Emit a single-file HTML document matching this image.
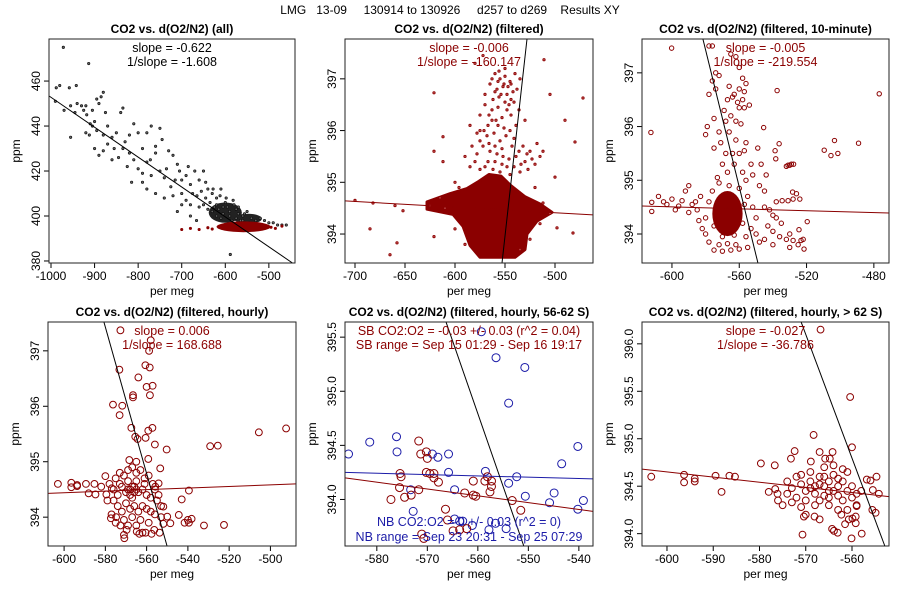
<!DOCTYPE html>
<html><head><meta charset="utf-8"><style>
body{margin:0;background:#fff}
svg text{font-family:"Liberation Sans",sans-serif}
</style></head><body>
<svg id="chart" width="900" height="600" xmlns="http://www.w3.org/2000/svg">
<rect width="900" height="600" fill="#fff"/>
<text x="450" y="14" text-anchor="middle" font-size="12" xml:space="preserve">LMG   13-09     130914 to 130926     d257 to d269    Results XY</text>
</svg>
<script>
const RED='#8b0000', BLUE='#1c1ca8';
// ---------- Panel 1 data ----------
const p1BlackPts=[[-988,457],[-980,458],[-958,457],[-942,458],[-990,451],[-970,447],[-955,449],[-945,446],[-940,450],[-930,449],[-925,447],[-920,449],[-918,445],[-905,447],[-895,452],[-890,450],[-880,455],[-885,453],[-875,446],[-910,441],[-905,440],[-900,442],[-895,438],[-920,437],[-912,436],[-955,435],[-880,436],[-870,440],[-860,435],[-850,437],[-840,446],[-835,448],[-830,433],[-820,436],[-810,441],[-800,437],[-790,430],[-780,437],[-770,440],[-750,439],[-760,431],[-745,434],[-820,428],[-810,425],[-800,421],[-790,419],[-780,424],[-770,418],[-760,428],[-750,420],[-740,417],[-730,429],[-720,427],[-710,423],[-700,416],[-690,418],[-680,414],[-670,420],[-660,416],[-650,420],[-640,412],[-630,410],[-620,408],[-610,412],[-600,406],[-590,402],[-580,405],[-570,401],[-560,400],[-550,402],[-540,399],[-520,399],[-510,398],[-490,397],[-470,396],[-460,396],[-900,430],[-890,427],[-880,429],[-870,432],[-815,415],[-790,415],[-780,412],[-760,410],[-740,408],[-720,409],[-700,410],[-690,407],[-680,405],[-660,404],[-650,405],[-640,403],[-630,402],[-700,405],[-710,402],[-620,400],[-610,399],[-680,400],[-666,398],[-860,425],[-845,426],[-835,430],[-825,422],[-855,430],[-772,425],[-735,421],[-725,413],[-715,416],[-705,420],[-685,422],[-675,410],[-665,409],[-655,411],[-645,408],[-635,406],[-625,404],[-615,403],[-605,401],[-595,404],[-585,398],[-575,403],[-565,398],[-555,397],[-545,397],[-530,398],[-500,397],[-480,396],[-971.7,475],[-913.5,467.8],[-588.5,382.9],[-645,415],[-628,412],[-612,409],[-598,408],[-582,407],[-570,404],[-556,401],[-620,405],[-605,404],[-590,400],[-575,399],[-560,398]];
const p1BlackBlobs=[[-600,401.5,38,4.5],[-548,398.8,32,2.2]];
const p1RedPts=[[-700,394],[-680,394.5],[-660,394],[-640,394.8],[-630,394.2],[-495,395],[-485,394.5],[-470,395.5]];
const p1RedBlobs=[[-558,395.2,62,2.4]];
const p1Line=[[-1004,453.3],[-445,379]];
// ---------- Panel 2 data ----------
const p2Pts=[[-621,396.73],[-612,395.88],[-621,395.6],[-612,395.4],[-472,396.63],[-505,396.7],[-511,397.37],[-490,396.2],[-480,395.78],[-500,395.1],[-482,394.02],[-498,394.12],[-700,394.65],[-682,394.6],[-660,394.55],[-652,394.45],[-685,394.1],[-658,393.83],[-665,393.6],[-621,393.95],[-580,397.3],[-572,397.45],[-560,397.1],[-555,397.0],[-550,397.2],[-545,396.95],[-540,397.1],[-535,397.0],[-565,396.9],[-558,396.8],[-552,396.85],[-548,396.7],[-542,396.75],[-538,396.8],[-562,396.6],[-556,396.65],[-550,396.55],[-546,396.5],[-570,396.5],[-575,396.3],[-566,396.3],[-559,396.2],[-553,396.25],[-544,396.3],[-536,396.4],[-530,396.2],[-585,396.1],[-578,395.95],[-568,395.9],[-561,395.95],[-555,395.8],[-549,395.9],[-541,395.85],[-532,395.7],[-525,395.6],[-518,395.75],[-512,395.6],[-572,395.7],[-565,395.6],[-558,395.55],[-552,395.5],[-546,395.45],[-539,395.5],[-530,395.4],[-520,395.35],[-590,395.5],[-580,395.4],[-570,395.3],[-562,395.25],[-555,395.2],[-545,395.15],[-535,395.2],[-600,395.0],[-596,394.9],[-520,394.9],[-512,394.6],[-515,394.2],[-525,393.9],[-535,393.7],[-590,393.8],[-600,394.1],[-610,394.5],[-625,394.55],[-615,394.7],[-505,394.4],
[-563,397.0],[-557,396.95],[-551,396.9],[-547,396.85],[-560,396.75],[-554,396.7],[-544,396.6],[-541,396.55],[-548,396.4],[-557,396.45],[-563,396.4],[-567,396.1],[-557,396.1],[-551,396.05],[-545,396.0],[-539,396.1],[-563,396.2],[-571,396.0],[-575,395.8],[-566,395.75],[-560,395.7],[-553,395.65],[-543,395.7],[-536,395.6],[-528,395.55],[-548,395.3],[-541,395.3],[-534,395.35],[-527,395.25],[-575,395.25],[-567,395.4],[-560,395.4],[-553,395.35],[-578,395.55],[-583,395.7],[-550,397.05],[-556,397.15],[-544,396.9],[-570,396.7],[-575,396.0],[-585,395.3],[-523,395.45],[-515,395.5]];
const p2Blob=[[-628,394.62],[-605,394.78],[-588,394.88],[-576,395.02],[-566,395.15],[-554,395.12],[-545,394.95],[-530,394.72],[-515,394.58],[-503,394.42],[-518,394.25],[-528,394.0],[-530,393.7],[-540,393.55],[-575,393.55],[-585,393.78],[-592,394.15],[-602,394.38],[-628,394.48]];
const p2RedLine=[[-710,394.64],[-462,394.37]];
const p2BlackLine=[[-528,397.77],[-553,393.44]];
// ---------- Panel 3 data ----------
const p3Pts=[[-600.2,397.46],[-612.5,395.89],[-476.8,396.61],[-537.5,396.67],[-545.5,395.98],[-536.3,395.68],[-538.7,395.55],[-538.3,395.4],[-532,395.26],[-531,395.28],[-530,395.28],[-529,395.3],[-527.7,395.3],[-509.5,395.56],[-505.5,395.46],[-503.4,395.74],[-501.4,395.5],[-489.1,395.69],[-528.3,394.78],[-528,394.65],[-534.5,394.62],[-519.6,394.23],[-524.5,394.08],[-523.3,393.88],[-521.5,393.72],[-578,397.5],[-576,397.5],[-574,397.0],[-572,396.95],[-565,397.35],[-562,397.3],[-560,397.1],[-558,396.9],[-556,396.8],[-576,396.85],[-574,396.7],[-566,396.75],[-563,396.6],[-560,396.7],[-557,396.65],[-564,396.55],[-567,396.5],[-561,396.45],[-558,396.5],[-578,396.6],[-569,396.3],[-565,396.2],[-560,396.35],[-557,396.35],[-554,396.4],[-562,396.1],[-568,396.1],[-575,396.15],[-579,396.0],[-580,395.85],[-572,395.9],[-559,396.05],[-566,395.9],[-556,395.7],[-549,395.6],[-562,395.75],[-571,395.7],[-575,395.6],[-568,395.5],[-564,395.5],[-560,395.5],[-557,395.55],[-553,395.3],[-563,395.3],[-570,395.3],[-567,395.15],[-558,395.15],[-552,395.1],[-544,395.1],[-547,395.3],[-556,395.0],[-573,395.05],[-548,394.9],[-545,394.8],[-612,394.42],[-612,394.59],[-608,394.7],[-605,394.6],[-603,394.55],[-600,394.65],[-598,394.45],[-596,394.52],[-594,394.62],[-592,394.8],[-590,394.9],[-588,394.55],[-586,394.6],[-590,394.4],[-585,394.45],[-583,394.7],[-545,394.5],[-542,394.45],[-540,394.35],[-538,394.3],[-535,394.2],[-540,394.05],[-536,393.95],[-532,393.9],[-530,394.0],[-528,393.88],[-525,393.8],[-522,393.9],[-530,393.75],[-540,393.8],[-545,393.9],[-550,394.0],[-548,393.85],[-543,394.15],[-538,394.6],[-531,394.62],[-526,394.75],[-524,394.65],[-575,393.7],[-570,393.68],[-565,393.7],[-560,393.72],[-555,393.75],[-572,393.8],[-567,393.82],[-562,393.8],[-578,393.85],[-580,394.0],[-582,394.1],[-584,394.25],[-580,394.3],[-576,394.8],[-572,394.95],[-566,394.9],[-560,394.85],[-555,394.7],[-552,394.5],[-550,394.3],[-553,394.1],[-556,393.95],[-578,394.6],[-575,394.15],[-558,394.2],[-557,394.55],[-570,393.95],[-563,393.98]];
const p3Blobs=[[-567,394.38,9,0.42]];
const p3RedLine=[[-617.8,394.52],[-471,394.39]];
const p3BlackLine=[[-581.6,397.63],[-548.9,393.46]];
// ---------- Panel 4 data ----------
const p4Pts=[[-572.7,397.37],[-558,397.19],[-558.8,397.0],[-573.2,396.66],[-560.6,396.74],[-558.5,396.7],[-564,396.52],[-560,396.35],[-557.1,396.37],[-566.6,396.2],[-566.6,396.16],[-558.4,396.2],[-576.3,396.03],[-571.8,396.01],[-573.1,395.84],[-567.4,395.61],[-559.2,395.56],[-557.2,395.61],[-565.5,395.45],[-564.4,395.41],[-560.5,395.43],[-556,395.31],[-550.3,395.22],[-529.2,395.28],[-525.5,395.29],[-505.6,395.53],[-492.4,395.6],[-568.4,395.03],[-559.2,395.05],[-553.4,394.88],[-565,395.0],[-603,394.6],[-596.5,394.62],[-596.5,394.54],[-593.7,394.56],[-593.7,394.58],[-589.4,394.6],[-588.1,394.43],[-585.3,394.6],[-584.8,394.41],[-582,394.55],[-580,394.74],[-579.5,394.41],[-576.9,394.52],[-539.5,394.48],[-543,394.32],[-544.4,394.04],[-540,393.95],[-538.2,393.97],[-541.6,393.9],[-539.5,393.9],[-532.2,393.85],[-522.5,393.86],[-571,393.68],[-570.8,393.62],[-569.7,393.77],[-577.3,393.98],[-574.8,394.0],[-572.7,393.85],[-564.8,393.74],[-563.5,393.7],[-562,393.72],[-560.5,393.72],[-557.6,393.7],[-553.7,393.72],[-556.3,393.77],[-551.9,393.88],[-548.5,393.89],[-553,394.0],[-550,394.01],[-551.9,394.19],[-554.2,394.61],[-554.2,394.4],[-555.8,394.55],[-575,394.7],[-573,394.8],[-571,394.75],[-569,394.85],[-567,394.9],[-565,394.8],[-563,394.85],[-561,394.7],[-559,394.75],[-557,394.6],[-576,394.5],[-574,394.4],[-572,394.55],[-570,394.45],[-568,394.5],[-566,394.55],[-564,394.45],[-562,394.5],[-560,394.4],[-558,394.35],[-556,394.5],[-574,394.2],[-572,394.1],[-570,394.25],[-568,394.15],[-566,394.2],[-564,394.1],[-562,394.2],[-560,394.15],[-558,394.1],[-556,394.05],[-576,394.3],[-571,393.95],[-567,394.0],[-563,393.95],[-559,393.9],[-569,394.65],[-565,394.65],[-561,394.6],[-573,394.6],[-578,394.6],[-579,394.3],[-577,394.05],[-555,394.3],[-553,394.2],[-575,393.9],[-569,393.85],[-565,393.85],[-568,394.4],[-567,394.55],[-566,394.45],[-569,394.5],[-567,394.35],[-565,394.5]];
const p4RedLine=[[-607.8,394.43],[-487.6,394.60]];
const p4BlackLine=[[-580.7,397.52],[-550.1,393.48]];
// ---------- Panel 5 data ----------
const p5BluePts=[[-585.6,394.42],[-581.4,394.53],[-576.1,394.58],[-576,394.44],[-573.3,394.09],[-572.8,393.89],[-569,394.42],[-567.9,394.39],[-565.8,394.42],[-565.8,394.25],[-564.6,394.09],[-564.6,393.82],[-563.6,393.8],[-563,393.8],[-561.1,393.76],[-559.3,395.55],[-558.5,394.26],[-557.8,393.72],[-556.4,395.31],[-556.5,393.78],[-554.4,393.73],[-553.9,394.15],[-553.9,394.89],[-552.3,394.21],[-550.7,395.22],[-550.6,394.03],[-545.8,393.97],[-544.9,394.06],[-543.4,394.33],[-540.2,394.49],[-540.2,393.91],[-539.1,393.99]];
const p5RedPts=[[-577.2,394.0],[-575.4,394.24],[-575.2,394.21],[-575.5,394.11],[-574.5,394.02],[-573.2,394.04],[-571.7,394.54],[-571.7,394.09],[-571.3,394.42],[-570.2,394.44],[-570,394.38],[-570.2,394.25],[-569.5,394.24],[-568.7,394.24],[-568.7,394.2],[-567.8,394.16],[-571.1,393.68],[-570.7,393.64],[-566.4,393.91],[-566,393.81],[-564.9,393.71],[-563.6,393.72],[-562.6,394.06],[-562.2,393.73],[-560.9,394.17],[-560.9,394.04],[-560.4,394.03],[-558.6,394.17],[-558.1,394.21],[-557.6,394.07],[-557.3,394.17],[-557.3,394.12],[-553.2,393.99],[-551.5,393.9]];
const p5BlueLine=[[-586.3,394.25],[-537.2,394.19]];
const p5RedLine=[[-586.3,394.20],[-537.2,393.89]];
const p5BlackLine=[[-566.3,395.64],[-550.9,393.57]];
// ---------- Panel 6 data ----------
const p6Pts=[[-603.4,394.6],[-596.3,394.62],[-596.3,394.54],[-594,394.58],[-594,394.55],[-589.5,394.61],[-588.2,394.44],[-586.5,394.61],[-585.3,394.6],[-579.7,394.74],[-578,394.44],[-576.7,394.72],[-576.6,394.47],[-576.1,394.42],[-566.8,396.15],[-560.4,395.44],[-568.3,395.04],[-560,394.91],[-572.4,394.87],[-567,394.86],[-564.2,394.86],[-573.2,394.79],[-568.9,394.76],[-565.8,394.79],[-564.8,394.79],[-570.7,393.99],[-570.4,394.18],[-568.1,394.18],[-564.3,394.05],[-563.9,394.03],[-563.1,394.01],[-560.1,393.95],[-557.9,394.0],[-562.3,394.2],[-561.5,394.1],[-560.7,394.15],[-559.9,394.16],[-559.2,394.11],[-559.2,394.18],[-559,394.29],[-555.6,394.25],[-554.9,394.22],[-554.7,394.6],[-555.5,394.46],[-554.2,394.42],[-556.8,394.57],[-556,394.56],[-574,394.55],[-573,394.48],[-572,394.6],[-571,394.52],[-570,394.45],[-569,394.55],[-568,394.5],[-568,394.42],[-567,394.6],[-567,394.35],[-566,394.5],[-566,394.4],[-565,394.55],[-565,394.38],[-564,394.45],[-564,394.62],[-563,394.5],[-563,394.4],[-562,394.55],[-562,394.35],[-561,394.45],[-561,394.65],[-560,394.5],[-560,394.38],[-559,394.42],[-559,394.3],[-558,394.45],[-570,394.35],[-571,394.62],[-573,394.33],[-572,394.38],[-574,394.42],[-569,394.65],[-566,394.7],[-564,394.72],[-562,394.68],[-571,394.28],[-568,394.3],[-565,394.3],[-563,394.25],[-561,394.25],[-570,394.2],[-567,394.15],[-575,394.3],[-576,394.35],[-566,394.6],[-569,394.48],[-567,394.52],[-565,394.45],[-563,394.58]];
const p6RedLine=[[-605.4,394.68],[-552.0,394.39]];
const p6BlackLine=[[-571.0,396.23],[-552.9,393.87]];
// ---------- tick arrays ----------
const p1XTicks=[-1000,-900,-800,-700,-600,-500], p1YTicks=[380,400,420,440,460];
const p2XTicks=[-700,-650,-600,-550,-500], p2YTicks=[394,395,396,397];
const p3XTicks=[-600,-560,-520,-480], p3YTicks=[394,395,396,397];
const p4XTicks=[-600,-580,-560,-540,-520,-500], p4YTicks=[394,395,396,397];
const p5XTicks=[-580,-570,-560,-550,-540], p5YTicks=[394.0,394.5,395.0,395.5];
const p6XTicks=[-600,-590,-580,-570,-560], p6YTicks=[394.0,394.5,395.0,395.5,396.0];

const svg=document.getElementById('chart');
const NS='http://www.w3.org/2000/svg';
function mk(tag,attrs,parent){const e=document.createElementNS(NS,tag);for(const k in attrs)e.setAttribute(k,attrs[k]);(parent||svg).appendChild(e);return e;}

function panel(id,box,xd,yd,title,xt,yt,yfmt){
  const g=mk('g',{});
  
  
  const [L,T,R,B]=box;
  const sx=v=>L+(v-xd[0])/(xd[1]-xd[0])*(R-L);
  const sy=v=>B-(v-yd[0])/(yd[1]-yd[0])*(B-T);
  const cp=mk('clipPath',{id:id+'-clip'},g);mk('rect',{x:L,y:T,width:R-L,height:B-T},cp);
  const plot=mk('g',{'clip-path':'url(#'+id+'-clip)'},g);
  const t=mk('text',{x:(L+R)/2,y:T-6,'text-anchor':'middle','font-size':12,'font-weight':'bold'},g);t.textContent=title;
  
  
  xt.forEach(v=>{const x=sx(v);mk('line',{x1:x,x2:x,y1:B,y2:B+5,stroke:'#000'},g);
    const l=mk('text',{x:x,y:B+17,'text-anchor':'middle','font-size':12},g);l.textContent=v;
    
    });
  yt.forEach(v=>{const y=sy(v);mk('line',{x1:L-5,x2:L,y1:y,y2:y,stroke:'#000'},g);
    const l=mk('text',{x:L-9,y:y,'text-anchor':'middle','font-size':12,transform:`rotate(-90 ${L-9} ${y})`},g);l.textContent=yfmt?v.toFixed(1):v;
    
    });
  const xl=mk('text',{x:(L+R)/2,y:B+32,'text-anchor':'middle','font-size':12},g);xl.textContent='per meg';
  
  
  const yx=L-29,yy=(T+B)/2;
  const yl=mk('text',{x:yx,y:yy,'text-anchor':'middle','font-size':12,transform:`rotate(-90 ${yx} ${yy})`},g);yl.textContent='ppm';
  
  
  mk('rect',{x:L,y:T,width:R-L,height:B-T,fill:'none',stroke:'#222','stroke-width':1},g);
  return {g,plot,sx,sy,L,R,T,B};
}
function blobs(p,arr,color){arr.forEach(b=>{const e=mk('ellipse',{cx:p.sx(b[0]),cy:p.sy(b[1]),rx:Math.abs(p.sx(b[0]+b[2])-p.sx(b[0])),ry:Math.abs(p.sy(b[1]+b[3])-p.sy(b[1])),fill:color},p.plot);
  
  });}
function polyBlob(p,arr,color){const e=mk('polygon',{points:arr.map(d=>p.sx(d[0])+','+p.sy(d[1])).join(' '),fill:color,stroke:color,'stroke-width':3,'stroke-linejoin':'round'},p.plot);
  
  }
function pts(p,arr,color,r,sw,fill){arr.forEach(d=>{const c=mk('circle',{cx:p.sx(d[0]),cy:p.sy(d[1]),r:r,fill:fill||'none',stroke:color,'stroke-width':sw},p.plot);
  
  });}
function line(p,arr,color,sw){const l=mk('line',{x1:p.sx(arr[0][0]),y1:p.sy(arr[0][1]),x2:p.sx(arr[1][0]),y2:p.sy(arr[1][1]),stroke:color,'stroke-width':sw||1},p.plot);
  
  }
function note(p,y,txt,color){const t=mk('text',{x:(p.L+p.R)/2,y:y,'text-anchor':'middle','font-size':12.5,fill:color},p.g);t.textContent=txt;
  
  }

// Panel 1
let p=panel('panel-all',[49,39,295,263],[-1004.6,-440],[379.1,478.7],'CO2 vs. d(O2/N2) (all)',p1XTicks,p1YTicks);
blobs(p,p1BlackBlobs,'#222');
pts(p,p1BlackPts,'#111',1.2,0.7,'#666');
blobs(p,p1RedBlobs,RED);
pts(p,p1RedPts,RED,1.2,0.7,RED);
line(p,p1Line,'#000');
note(p,52,'slope = -0.622','#000');note(p,66,'1/slope = -1.608','#000');
// Panel 2
p=panel('panel-filtered',[345,39,593,263],[-710,-462],[393.44,397.77],'CO2 vs. d(O2/N2) (filtered)',p2XTicks,p2YTicks);
polyBlob(p,p2Blob,RED);
pts(p,p2Pts,RED,1.2,0.8,'#c05050');
line(p,p2RedLine,RED);line(p,p2BlackLine,'#000');
note(p,52,'slope = -0.006',RED);note(p,66,'1/slope = -160.147',RED);
// Panel 3
p=panel('panel-10-minute',[642,39,889,263],[-617.8,-471],[393.46,397.63],'CO2 vs. d(O2/N2) (filtered, 10-minute)',p3XTicks,p3YTicks);
blobs(p,p3Blobs,RED);
pts(p,p3Pts,RED,2.2,1,'none');
line(p,p3RedLine,RED);line(p,p3BlackLine,'#000');
note(p,52,'slope = -0.005',RED);note(p,66,'1/slope = -219.554',RED);
// Panel 4
p=panel('panel-hourly',[48,322,296,546],[-607.8,-487.6],[393.48,397.52],'CO2 vs. d(O2/N2) (filtered, hourly)',p4XTicks,p4YTicks);
pts(p,p4Pts,RED,3.4,1,'none');
line(p,p4RedLine,RED);line(p,p4BlackLine,'#000');
note(p,335,'slope = 0.006',RED);note(p,349,'1/slope = 168.688',RED);
// Panel 5
p=panel('panel-hourly-56-62S',[345,322,593,546],[-586.3,-537.2],[393.57,395.64],'CO2 vs. d(O2/N2) (filtered, hourly, 56-62 S)',p5XTicks,p5YTicks,true);
pts(p,p5BluePts,BLUE,4,1,'none');
pts(p,p5RedPts,RED,4,1,'none');
line(p,p5BlueLine,BLUE);line(p,p5RedLine,RED);line(p,p5BlackLine,'#000');
note(p,335,'SB CO2:O2 = -0.03 +/- 0.03 (r^2 = 0.04)',RED);note(p,349,'SB range = Sep 15 01:29 - Sep 16 19:17',RED);
note(p,526,'NB CO2:O2 = 0 +/- 0.03 (r^2 = 0)',BLUE);note(p,541,'NB range = Sep 23 20:31 - Sep 25 07:29',BLUE);
// Panel 6
p=panel('panel-hourly-gt-62S',[642,322,889,546],[-605.4,-552.0],[393.87,396.23],'CO2 vs. d(O2/N2) (filtered, hourly, > 62 S)',p6XTicks,p6YTicks,true);
pts(p,p6Pts,RED,3.4,1,'none');
line(p,p6RedLine,RED);line(p,p6BlackLine,'#000');
note(p,335,'slope = -0.027',RED);note(p,349,'1/slope = -36.786',RED);
</script>
</body></html>
